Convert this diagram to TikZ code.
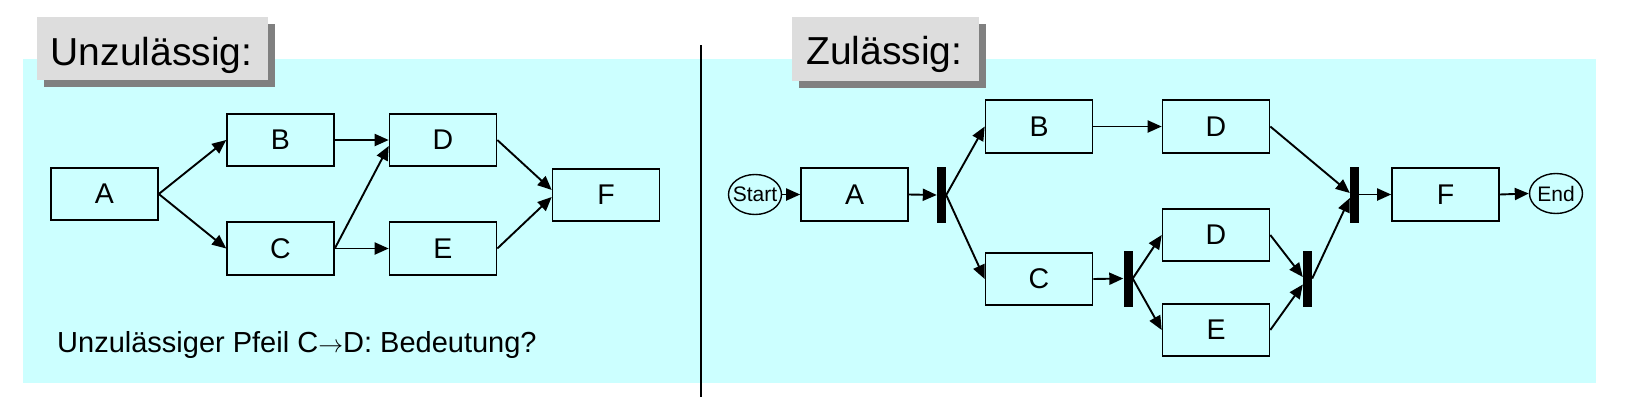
\documentclass[tikz,border=0pt]{standalone}
\usepackage{fontspec}
\setmainfont{Liberation Sans}
\usetikzlibrary{arrows.meta,shapes.geometric}
\definecolor{bgcyan}{HTML}{CCFFFF}
\definecolor{titlegray}{HTML}{DDDDDD}
\definecolor{shadowgray}{HTML}{808080}
\begin{document}
\begin{tikzpicture}[x=1pt,y=-1pt,
  box/.style={draw, line width=1.6pt, fill=bgcyan, minimum width=107pt, minimum height=52.5pt, inner sep=0pt, font=\fontsize{28.5}{30}\selectfont},
  bar/.style={fill=black, minimum width=9pt, minimum height=56pt, inner sep=0pt},
  ellip/.style={ellipse, draw, line width=1.4pt, fill=bgcyan, minimum width=53pt, minimum height=40pt, inner sep=0pt, font=\fontsize{21}{23}\selectfont},
  arr/.style={line width=1.9pt, -{Triangle[length=14pt,width=12pt]}},
  titletext/.style={font=\fontsize{39}{42}\selectfont, inner sep=0pt, anchor=base},
  note/.style={font=\fontsize{29}{31}\selectfont, inner sep=0pt, anchor=base west}]
\useasboundingbox (0,0) rectangle (1628,400);
% background
\fill[bgcyan] (23,59) rectangle (1596,383);
\draw[line width=1.6pt] (701,45) -- (701,397);
% titles
\fill[shadowgray] (44,24) rectangle (275,87);
\fill[titlegray] (37,17) rectangle (268,80);
\node[titletext] (t1) at (151.5,65) {Unzulässig:};
\fill[shadowgray] (799,24) rectangle (986,88);
\fill[titlegray] (792,17) rectangle (979,81);
\node[titletext] (t2) at (884.5,64) {Zulässig:};
% left diagram
\node[box] (A) at (104.5,194) {A};
\node[box] (B) at (280.5,140) {B};
\node[box] (C) at (280.5,248.5) {C};
\node[box] (D) at (443,140) {D};
\node[box] (E) at (443,248.5) {E};
\node[box] (F) at (606,195) {F};
\draw[arr] (A.east) -- (B.west);
\draw[arr] (A.east) -- (C.west);
\draw[arr] (B.east) -- (D.west);
\draw[arr] (C.east) -- ([yshift=-6pt]D.west);
\draw[arr] (C.east) -- (E.west);
\draw[arr] (D.east) -- ([yshift=5pt]F.west);
\draw[arr] (E.east) -- ([yshift=-2pt]F.west);
\node[note] (n1) at (57,352) {Unzulässiger Pfeil C$\rightarrow$D: Bedeutung?};
% right diagram
\node[ellip] (S) at (755,194.5) {\makebox[30pt]{Start}};
\node[box] (A2) at (854.5,194.5) {A};
\node[bar] (b1) at (941.5,195) {};
\node[box] (B2) at (1039,126.5) {B};
\node[box] (D1) at (1216,126.5) {D};
\node[box] (C2) at (1039,279) {C};
\node[bar] (b2) at (1128,278.5) {};
\node[box] (D2) at (1216,235) {D};
\node[box] (E2) at (1216,330) {E};
\node[bar] (b3) at (1307.5,278.5) {};
\node[bar] (b4) at (1354.5,194.5) {};
\node[box] (F2) at (1445.5,194.5) {F};
\node[ellip] (En) at (1556,193.5) {\makebox[30pt]{End}};
\draw[arr] (S.east) -- (A2.west);
\draw[arr] (A2.east) -- (b1.west);
\draw[arr] (b1.east) -- (B2.west);
\draw[arr] (b1.east) -- (C2.west);
\draw[arr] (B2.east) -- (D1.west);
\draw[arr] (C2.east) -- (b2.west);
\draw[arr] (b2.east) -- (D2.west);
\draw[arr] (b2.east) -- (E2.west);
\draw[arr] (D2.east) -- ([yshift=1.5pt]b3.west);
\draw[arr] (E2.east) -- ([yshift=-6pt]b3.west);
\draw[arr] (D1.east) -- ([yshift=1.5pt]b4.west);
\draw[arr] (b3.east) -- ([yshift=-3.5pt]b4.west);
\draw[arr] (b4.east) -- (F2.west);
\draw[arr] (F2.east) -- (En.west);
\end{tikzpicture}
\end{document}
